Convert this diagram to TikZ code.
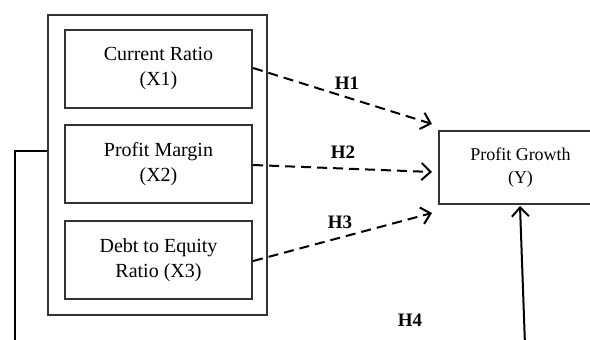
\documentclass[tikz,border=0pt]{standalone}
\usepackage{fontspec}
\setmainfont{Liberation Serif}
\usetikzlibrary{arrows.meta}
\begin{document}
\begin{tikzpicture}[x=1pt,y=-1pt,
  frame/.style={draw=black!80,line width=2.2pt,inner sep=0pt},
  varbox/.style={frame,minimum width=187pt,minimum height=78pt,align=center,font=\fontsize{20}{25}\selectfont},
  ybox/.style={frame,minimum width=163pt,minimum height=73pt,align=center,font=\fontsize{18}{23}\selectfont},
  hyp/.style={dashed,dash pattern=on 10pt off 6pt,line width=2pt,-{Straight Barb[length=9pt,width=17pt,line width=2pt]}},
  solidarr/.style={line width=2pt,-{Straight Barb[length=9pt,width=17pt,line width=2pt]}},
  hlab/.style={font=\fontsize{19}{22}\selectfont\bfseries,inner sep=0pt}]
\useasboundingbox (0,0) rectangle (590,340);
\node[frame,minimum width=219pt,minimum height=300pt] (outer) at (157.5,165) {};
\node[varbox] (x1) at (158.5,69) {Current Ratio\\(X1)};
\node[varbox] (x2) at (158.5,164) {Profit Margin\\(X2)};
\node[varbox] (x3) at (158.5,260) {Debt to Equity\\Ratio (X3)};
\node[ybox] (y) at (520.5,167.5) {Profit Growth\\(Y)};
\coordinate (e1) at (432,124);
\coordinate (e2) at (432,172);
\coordinate (e3) at (432,213);
\draw[hyp] (x1.east |- 0,68) -- (e1);
\draw[hyp] (x2.east |- 0,165) -- (e2);
\draw[hyp] (x3.east |- 0,261) -- (e3);
\node[hlab] (h1) at (347,83) {H1};
\node[hlab] (h2) at (343,152) {H2};
\node[hlab] (h3) at (340,222) {H3};
\node[hlab] (h4) at (410,320) {H4};
\coordinate (l1) at (15,151);
\coordinate (l2) at (15,345);
\draw[line width=2pt] (outer.west |- l1) -- (l1) -- (l2);
\coordinate (b) at (525,345);
\coordinate (bt) at (520,206);
\draw[solidarr] (b) -- (bt);
\end{tikzpicture}
\end{document}
